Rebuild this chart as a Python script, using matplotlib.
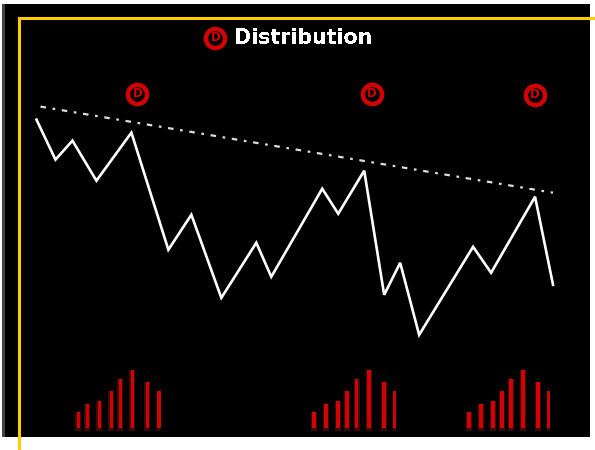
import matplotlib
matplotlib.use('Agg')
import matplotlib.pyplot as plt
from matplotlib.patches import Rectangle

# price path, x and height above the baseline of the frame
price_x = [18, 37, 54, 78, 113, 150, 173, 203, 238, 253, 304, 320, 346, 366, 382, 401, 455, 473, 517, 535]
price_y = [330, 290, 309, 269, 317, 200, 235, 152, 207, 173, 261, 236, 279, 155, 187, 115, 203, 177, 253, 165]

trend_x = [22, 535]
trend_y = [343, 257]

# volume bars, three clusters
vol_x = [60, 69, 81, 93, 102, 114, 129, 140.5,
         296, 308, 320, 329, 338.5, 351, 366, 376.5,
         451, 463, 475, 484, 493, 505, 520, 530.5]
vol_h = [18, 26, 29, 39, 51, 60, 48, 39,
         18, 26, 29, 39, 51, 60, 48, 39,
         18, 26, 29, 39, 51, 60, 48, 39]
vol_w = [6, 6, 6, 6, 6, 6, 6, 3] * 3

badge_x = [197, 119, 354, 517]
badge_y = [412, 356, 356, 355]

title = 'Distribution'
badge_label = 'D'

RED = '#d40000'
YELLOW = '#ffcc00'

fig = plt.figure(figsize=(5.95, 4.5), dpi=100, facecolor='white')

# black panel with the grey strip on its left side
fig.add_artist(Rectangle((2 / 595, 13 / 450), 588 / 595, 433 / 450, transform=fig.transFigure,
                         facecolor='black', edgecolor='none', zorder=-2))
fig.add_artist(Rectangle((2 / 595, 13 / 450), 3 / 595, 433 / 450, transform=fig.transFigure,
                         facecolor='#444444', edgecolor='none', zorder=-1))

ax = fig.add_axes([18.5 / 595, 0, 576.5 / 595, 432.5 / 450])
ax.set_facecolor('none')
ax.set_xlim(0, 577)
ax.set_ylim(0, 432)
ax.set_xticks([])
ax.set_yticks([])
for side in ['right', 'bottom']:
    ax.spines[side].set_visible(False)
for side in ['left', 'top']:
    ax.spines[side].set_color(YELLOW)
    ax.spines[side].set_linewidth(2.2)

ax.bar(vol_x, [h + 1 for h in vol_h], width=vol_w, bottom=19, color='#3a0a0a', linewidth=0)
ax.bar(vol_x, [h - 2 for h in vol_h], width=3.5, bottom=22, color=RED, linewidth=0)

ax.plot(price_x, price_y, color='white', linewidth=1.9, solid_joinstyle='miter')
ax.plot(trend_x, trend_y, color='#dddddd', linewidth=1.6, linestyle=(0, (2.5, 3, 1.2, 3)))

ax.scatter(badge_x, badge_y, s=190, facecolor='black', edgecolor=RED, linewidth=3.2, zorder=3)
for bx, by in zip(badge_x, badge_y):
    ax.text(bx, by, badge_label, color=RED, fontsize=8.5, fontweight='bold',
            ha='center', va='center', zorder=4)

txt = ax.text(216, 412, title, color='white', fontsize=14.8, fontweight='bold',
              family='DejaVu Sans', ha='left', va='center')
txt.set_antialiased(False)

fig.savefig('out.png', dpi=100, facecolor='white')
